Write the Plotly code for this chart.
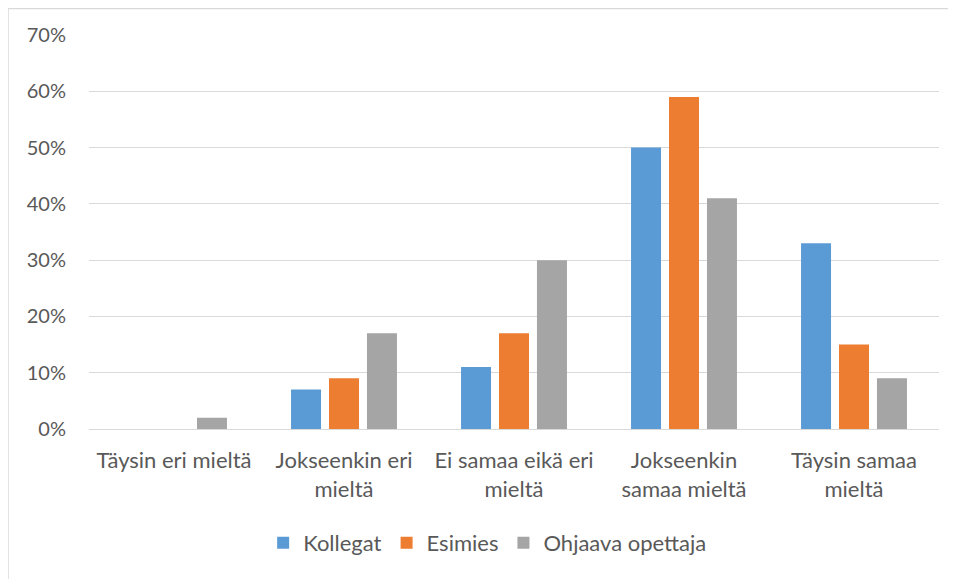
import plotly.graph_objects as go

categories = ["Täysin eri mieltä", "Jokseenkin eri<br>mieltä", "Ei samaa eikä eri<br>mieltä",
              "Jokseenkin<br>samaa mieltä", "Täysin samaa<br>mieltä"]
kollegat = [0, 0.07, 0.11, 0.50, 0.33]
esimies = [0, 0.09, 0.17, 0.59, 0.15]
ohjaava = [0.02, 0.17, 0.30, 0.41, 0.09]
series_names = ["Kollegat", "Esimies", "Ohjaava opettaja"]
colors = ["#5B9BD5", "#ED7D31", "#A5A5A5"]

fig = go.Figure()
for name, vals, c in zip(series_names, [kollegat, esimies, ohjaava], colors):
    fig.add_trace(go.Bar(x=categories, y=vals, name=name, marker_color=c, marker_line_width=0))

font = "Lato, 'Open Sans', sans-serif"
border = "#d9d9d9"
fig.update_layout(
    width=948, height=571,
    margin=dict(l=81, r=17, t=27, b=150),
    paper_bgcolor="white", plot_bgcolor="white",
    barmode="group", bargap=0.33, bargroupgap=0.21,
    font=dict(family=font, color="#595959", size=20),
    xaxis=dict(showgrid=False, showline=False, ticks="", tickfont=dict(size=22),
               ticklabelstandoff=16, automargin=False),
    yaxis=dict(range=[0, 0.7], dtick=0.1, tickformat=".0%", showgrid=True, gridcolor=border,
               gridwidth=1, zeroline=True, zerolinecolor=border, zerolinewidth=1,
               ticks="", ticklabelstandoff=22, tickfont=dict(size=20), automargin=False),
    legend=dict(orientation="h", x=0.469, xanchor="center", y=-0.289, yanchor="middle",
                font=dict(size=22), traceorder="normal"),
    shapes=[
        dict(type="line", xref="paper", yref="paper", x0=-0.0953, x1=-0.0953, y0=-0.6, y1=1.067,
             line=dict(color=border, width=1.5)),
        dict(type="line", xref="paper", yref="paper", x0=-0.0953, x1=1.2, y0=1.067, y1=1.067,
             line=dict(color=border, width=1.5)),
    ],
)
fig.write_html("out.html")
